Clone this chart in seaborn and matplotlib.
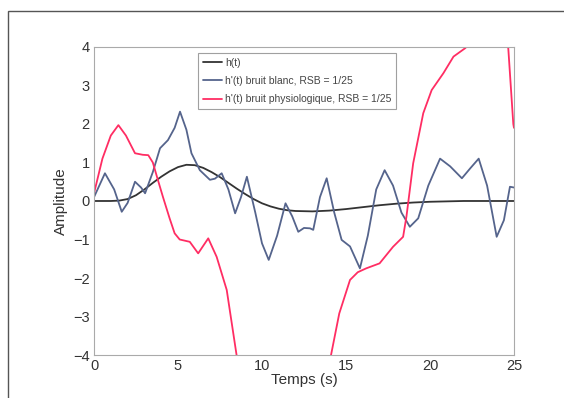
import numpy as np
import pandas as pd
import matplotlib
matplotlib.use("Agg")
import matplotlib.pyplot as plt
import seaborn as sns
from matplotlib.patches import Rectangle

# h(t) : réponse hémodynamique de référence
x_h = [0, 1, 1.5, 2, 2.5, 3, 3.5, 4, 4.5, 5, 5.5, 6, 6.5, 7, 7.5, 8, 8.5, 9, 9.5,
       10, 10.5, 11, 11.5, 12, 13, 14, 15, 16, 17, 18, 19, 20, 21, 22, 23, 24, 25]
y_h = [0, 0, 0.01, 0.05, 0.15, 0.3, 0.47, 0.63, 0.77, 0.88, 0.94, 0.93, 0.86, 0.75,
       0.62, 0.47, 0.32, 0.18, 0.05, -0.06, -0.14, -0.2, -0.24, -0.26, -0.27, -0.25,
       -0.21, -0.16, -0.11, -0.07, -0.04, -0.02, -0.01, 0, 0, 0, 0]

# h'(t) bruit blanc
x_blanc = [0, 0.65, 1.2, 1.65, 2.0, 2.44, 2.8, 3.04, 3.5, 3.93, 4.4, 4.8, 5.12, 5.5,
           5.8, 6.3, 6.9, 7.2, 7.6, 8.0, 8.4, 8.75, 9.1, 9.6, 10.0, 10.4, 10.9, 11.4,
           11.8, 12.16, 12.5, 12.86, 13.05, 13.45, 13.85, 14.3, 14.74, 15.24, 15.83,
           16.3, 16.8, 17.3, 17.8, 18.3, 18.8, 19.3, 19.9, 20.6, 21.2, 21.9, 22.4,
           22.9, 23.4, 23.97, 24.4, 24.76, 25]
y_blanc = [0.1, 0.72, 0.3, -0.28, -0.05, 0.5, 0.35, 0.2, 0.75, 1.37, 1.58, 1.9, 2.32,
           1.85, 1.24, 0.8, 0.55, 0.58, 0.72, 0.3, -0.32, 0.1, 0.63, -0.3, -1.1, -1.53,
           -0.9, -0.06, -0.4, -0.8, -0.7, -0.71, -0.75, 0.1, 0.59, -0.3, -1.01, -1.18,
           -1.75, -0.9, 0.3, 0.8, 0.4, -0.3, -0.67, -0.45, 0.4, 1.1, 0.9, 0.59, 0.85,
           1.1, 0.4, -0.93, -0.5, 0.37, 0.35]

# h'(t) bruit physiologique
x_phys = [0, 0.5, 1.0, 1.45, 1.9, 2.44, 2.9, 3.23, 3.5, 3.8, 4.1, 4.5, 4.8, 5.1, 5.7,
          6.2, 6.8, 7.3, 7.9, 8.5, 9.0, 10, 11, 12, 13, 13.6, 14.05, 14.6, 15.24, 15.7,
          16.2, 17.0, 17.8, 18.4, 18.6, 19.0, 19.6, 20.1, 20.8, 21.4, 22.1, 22.6, 23.5,
          24.2, 24.66, 24.96, 25]
y_phys = [0.2, 1.1, 1.7, 1.97, 1.7, 1.24, 1.2, 1.19, 1.0, 0.55, 0.11, -0.45, -0.84,
          -1.0, -1.06, -1.36, -0.97, -1.45, -2.31, -4.04, -5.0, -6.2, -6.8, -6.5, -5.6,
          -4.8, -4.13, -2.92, -2.05, -1.85, -1.75, -1.62, -1.19, -0.93, -0.4, 0.98, 2.28,
          2.88, 3.32, 3.75, 3.97, 4.2, 4.4, 4.3, 3.97, 2.0, 1.9]

labels = ["h(t)", "h'(t) bruit blanc, RSB = 1/25", "h'(t) bruit physiologique, RSB = 1/25"]
colors = ["#333333", "#55648c", "#ff2d63"]
x_ticks = [0, 5, 10, 15, 20, 25]
y_ticks = [-4, -3, -2, -1, 0, 1, 2, 3, 4]

df = pd.concat([
    pd.DataFrame({"t": x_h, "amp": y_h, "serie": labels[0]}),
    pd.DataFrame({"t": x_blanc, "amp": y_blanc, "serie": labels[1]}),
    pd.DataFrame({"t": x_phys, "amp": y_phys, "serie": labels[2]}),
], ignore_index=True)

sns.set_style("white")
plt.rcParams['font.family'] = ['Liberation Sans', 'DejaVu Sans']

fig = plt.figure(figsize=(5.64, 3.98), dpi=100)
ax = fig.add_axes([0.1667, 0.108, 0.7446, 0.774])

sns.lineplot(data=df, x="t", y="amp", hue="serie", palette=dict(zip(labels, colors)),
             estimator=None, sort=False, linewidth=1.3, ax=ax)

ax.set_xlim(0, 25)
ax.set_ylim(-4, 4)
ax.set_xticks(x_ticks)
ax.set_yticks(y_ticks)
ax.tick_params(direction="in", length=3, labelsize=10.5, colors="#333333", pad=3)
for s in ax.spines.values():
    s.set_color("#aaaaaa")
    s.set_linewidth(0.8)
ax.set_xlabel("Temps (s)", fontsize=11, labelpad=0, color="#333333")
ax.set_ylabel("Amplitude", fontsize=11, labelpad=4, color="#333333")

leg = ax.legend(loc="upper left", bbox_to_anchor=(0.236, 0.997), fontsize=7.5,
                handlelength=1.8, handletextpad=0.3, borderpad=0.45, labelspacing=0.8,
                frameon=True, fancybox=False, edgecolor="#888888")
leg.get_frame().set_linewidth(0.8)
for t in leg.get_texts():
    t.set_color("#444444")

# cadre autour de la figure
fig.patches.append(Rectangle((8 / 564, -0.05), 1.1, 1 - 11 / 398 + 0.05,
                             transform=fig.transFigure, fill=False,
                             edgecolor="#555555", linewidth=1.0))

fig.savefig("out.png", dpi=100)
